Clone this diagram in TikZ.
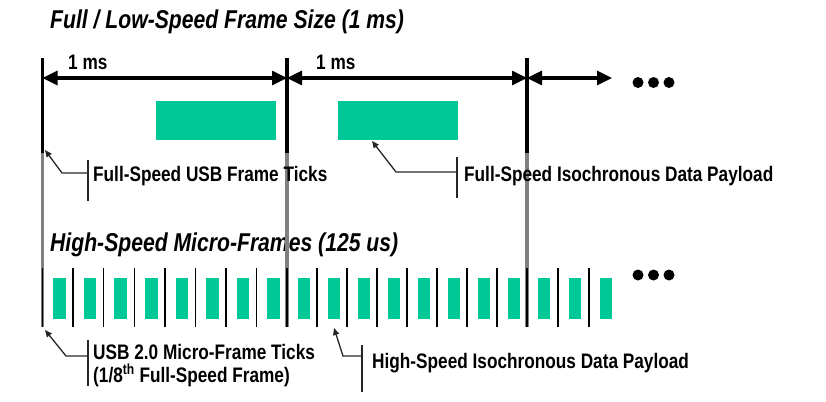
\documentclass[tikz,border=0pt]{standalone}
\usepackage{fontspec}
\newfontfamily\cnd{Liberation Sans}[FakeStretch=0.82]
\usetikzlibrary{arrows.meta}
\definecolor{payload}{RGB}{0,201,151}
\definecolor{tickgray}{RGB}{128,128,128}
\begin{document}
\begin{tikzpicture}[x=1bp,y=-1bp,
  ttl/.style={anchor=base west,inner sep=0pt,font=\cnd\bfseries\itshape\fontsize{25.8bp}{28bp}\selectfont},
  lbl/.style={anchor=base west,inner sep=0pt,align=left,font=\cnd\bfseries\fontsize{21bp}{23bp}\selectfont},
  msl/.style={anchor=base west,inner sep=0pt,font=\cnd\bfseries\fontsize{21bp}{23bp}\selectfont},
  framebk/.style={line width=3.5bp,black},
  framegr/.style={line width=3.5bp,tickgray},
  microtick/.style={line width=1.5bp,black},
  span/.style={line width=3.2bp,{Triangle[length=15bp,width=14bp]}-{Triangle[length=15bp,width=14bp]}},
  pay/.style={fill=payload,draw=none},
  leader/.style={line width=1.3bp,black!85,-{Triangle[length=7bp,width=6bp]}},
  bracket/.style={line width=1.3bp,black!85},
  dot/.style={circle,fill=black,inner sep=0pt,minimum size=11bp}
]
\useasboundingbox (0,0) rectangle (826,401);

% titles
\node[ttl] (t1) at (50,28) {Full / Low-Speed Frame Size (1 ms)};
\node[ttl] (t2) at (50,251.5) {High-Speed Micro-Frames (125 us)};

% frame lines
\foreach \i/\x in {0/42.5,1/287,2/527}{
  \coordinate (f\i top) at (\x,58);
  \coordinate (f\i mid) at (\x,153);
  \coordinate (f\i bot) at (\x,327);
  \coordinate (f\i a) at (\x,78);
}
\foreach \i in {0,1,2}{
  \draw[framegr] (f\i mid) -- (f\i bot);
  \draw[framebk] (f\i top) -- (f\i mid);
}
\coordinate (f3a) at (612,78);

% 1 ms spans
\draw[span] (f0a) -- (f1a);
\draw[span] (f1a) -- (f2a);
\draw[span] (f2a) -- (f3a);
\node[msl] (ms1) at (68,69) {1 ms};
\node[msl] (ms2) at (316,69) {1 ms};

% dots
\foreach \k/\x in {1/638,2/653.5,3/669}{
  \node[dot] (da\k) at (\x,82.5) {};
  \node[dot] (db\k) at (\x,275) {};
}

% full-speed payloads
\node[pay,minimum width=120bp,minimum height=39bp,inner sep=0pt] (p1) at (216,120.5) {};
\node[pay,minimum width=120bp,minimum height=39bp,inner sep=0pt] (p2) at (398,120.5) {};

% micro frame ticks and payloads
\foreach \n/\x in {0/42.5,1/73.1,2/103.7,3/134.3,4/164.9,5/195.5,6/226.1,7/256.7,
  8/287,9/317,10/347,11/377,12/407,13/437,14/467,15/497,16/527,17/558,18/589}{
  \draw[microtick] (\x,268) -- (\x,327);
  \node[pay,minimum width=12.5bp,minimum height=41bp,inner sep=0pt] (m\n) at (\x+17,298.5) {};
}

% labels
\node[lbl] (l1) at (93,181.5) {Full-Speed USB Frame Ticks};
\node[lbl] (l2) at (464,181.5) {Full-Speed Isochronous Data Payload};
\node[lbl] (l3) at (93,382) {USB 2.0 Micro-Frame Ticks\\[0bp](1/8\textsuperscript{th} Full-Speed Frame)};
\node[lbl] (l4) at (372,368.5) {High-Speed Isochronous Data Payload};

% leaders
\coordinate (tipA) at (45,150); \coordinate (bendA) at (62,173); \coordinate (brkA) at (88,173);
\coordinate (brkA1) at (88,160); \coordinate (brkA2) at (88,201);
\draw[bracket] (brkA1) -- (brkA2);
\draw[leader] (brkA) -- (bendA) -- (tipA);

\coordinate (tipB) at (372,141); \coordinate (bendB) at (396,172); \coordinate (brkB) at (457,172);
\coordinate (brkB1) at (457,157); \coordinate (brkB2) at (457,198);
\draw[bracket] (brkB1) -- (brkB2);
\draw[leader] (brkB) -- (bendB) -- (tipB);

\coordinate (tipC) at (45,330); \coordinate (bendC) at (66,356); \coordinate (brkC) at (88,356);
\coordinate (brkC1) at (88,340); \coordinate (brkC2) at (88,386);
\draw[bracket] (brkC1) -- (brkC2);
\draw[leader] (brkC) -- (bendC) -- (tipC);

\coordinate (tipD) at (334,328); \coordinate (bendD) at (343,356); \coordinate (brkD) at (362,356);
\coordinate (brkD1) at (362,345); \coordinate (brkD2) at (362,392);
\draw[bracket] (brkD1) -- (brkD2);
\draw[leader] (brkD) -- (bendD) -- (tipD);
\end{tikzpicture}
\end{document}
